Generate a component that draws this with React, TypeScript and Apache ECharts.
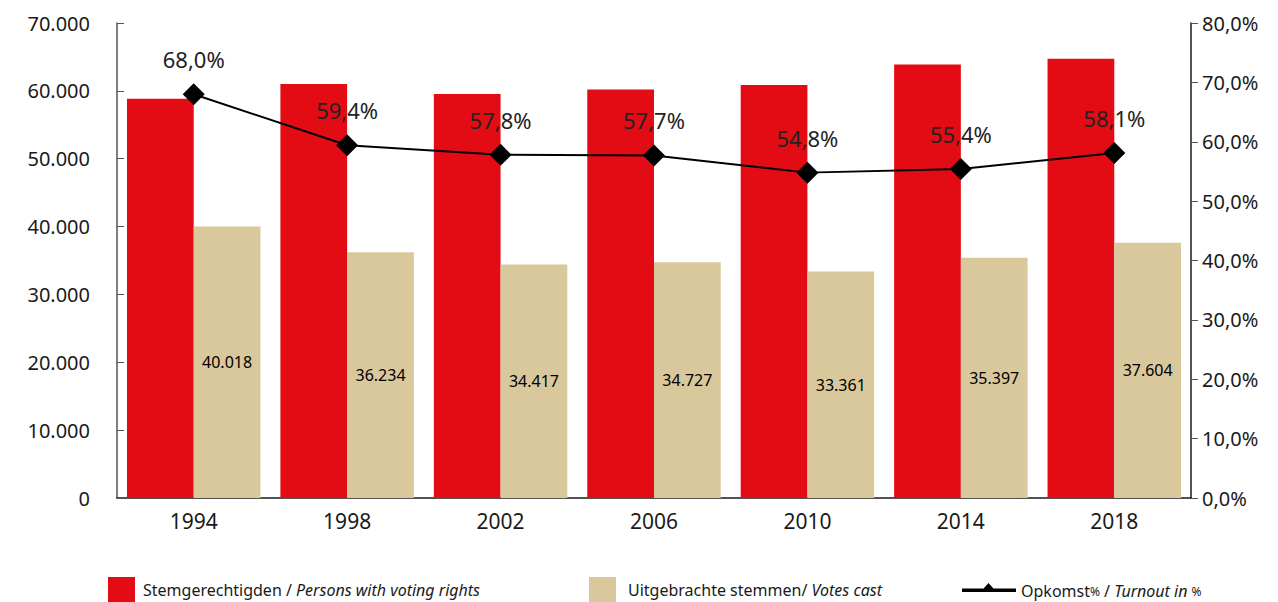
import React, { useEffect, useRef } from "react";
import * as echarts from "echarts";

const years = ["1994", "1998", "2002", "2006", "2010", "2014", "2018"];
const eligible = [58850, 61000, 59545, 60185, 60878, 63894, 64723];
const votes = [40018, 36234, 34417, 34727, 33361, 35397, 37604];
const turnout = [68.0, 59.4, 57.8, 57.7, 54.8, 55.4, 58.1];

const FONT = "Noto Sans";

const fmtThousands = (v: number) => {
  if (v === 0) return "0";
  const s = Math.round(v).toString();
  return s.replace(/\B(?=(\d{3})+(?!\d))/g, ".");
};
const fmtPct = (v: number) => v.toFixed(1).replace(".", ",") + "%";

export default function App() {
  const ref = useRef<HTMLDivElement>(null);
  useEffect(() => {
    if (!ref.current) return;
    document.body.style.margin = "0";
    document.body.style.overflow = "hidden";
    const chart = echarts.init(ref.current, undefined, { renderer: "svg" });
    const legendRich = {
      n: { fontFamily: FONT, fontSize: 16, color: "#1a1a1a" },
      i: { fontFamily: FONT, fontSize: 16, color: "#1a1a1a", fontStyle: "italic" },
      s: { fontFamily: FONT, fontSize: 12, color: "#1a1a1a" },
      g3: { width: 3 },
      g7: { width: 7 },
    };
    chart.setOption({
      animation: false,
      textStyle: { fontFamily: FONT },
      grid: { left: 117, right: 87, top: 23, bottom: 104 },
      legend: [
        {
          data: [{ name: "Stemgerechtigden", icon: "rect" }],
          left: 108,
          top: 577,
          padding: 0,
          itemWidth: 27,
          itemHeight: 25,
          itemGap: 8,
          formatter: () => "{g3|}{n|Stemgerechtigden / }{i|Persons with voting rights}",
          textStyle: { rich: legendRich },
          selectedMode: false,
        },
        {
          data: [{ name: "Uitgebrachte stemmen", icon: "rect" }],
          left: 589,
          top: 577,
          padding: 0,
          itemWidth: 27,
          itemHeight: 25,
          formatter: () => "{g7|}{n|Uitgebrachte stemmen/ }{i|Votes cast}",
          textStyle: { rich: legendRich },
          selectedMode: false,
        },
        {
          data: [
            {
              name: "Opkomst",
              icon:
                "path://M0,5.5 L22,5.5 L27,0 L32,5.5 L55,5.5 L55,9 L0,9 Z M0,16 L0.01,16 L0,16 Z",
            },
          ],
          left: 962,
          top: 583,
          padding: 0,
          itemWidth: 54,
          itemHeight: 16,
          itemGap: 2,
          symbolKeepAspect: false,
          itemStyle: { color: "#000" },
          formatter: () => "{n|Opkomst}{s|%}{n| / }{i|Turnout in }{s|%}",
          textStyle: { rich: legendRich },
          selectedMode: false,
        },
      ],
      xAxis: {
        type: "category",
        data: years,
        axisLine: { lineStyle: { color: "#1a1a1a", width: 1.5 } },
        axisTick: { show: false },
        axisLabel: { fontFamily: FONT, fontSize: 21, color: "#1a1a1a", margin: 12 },
      },
      yAxis: [
        {
          type: "value",
          min: 0,
          max: 70000,
          interval: 10000,
          axisLine: { show: true, lineStyle: { color: "#555", width: 1.5 } },
          axisTick: { show: true, inside: true, length: 7, lineStyle: { color: "#555" } },
          splitLine: { show: false },
          axisLabel: {
            fontFamily: FONT,
            fontSize: 20,
            color: "#1a1a1a",
            margin: 27,
            formatter: fmtThousands,
          },
        },
        {
          type: "value",
          min: 0,
          max: 80,
          interval: 10,
          position: "right",
          axisLine: { show: true, lineStyle: { color: "#1a1a1a", width: 1.5 } },
          axisTick: { show: true, inside: false, length: 7, lineStyle: { color: "#555" } },
          splitLine: { show: false },
          axisLabel: {
            fontFamily: FONT,
            fontSize: 20,
            color: "#1a1a1a",
            margin: 11,
            formatter: fmtPct,
          },
        },
      ],
      series: [
        {
          name: "Stemgerechtigden",
          type: "bar",
          data: eligible,
          itemStyle: { color: "#e30c15" },
          barGap: "0%",
          barCategoryGap: "13%",
        },
        {
          name: "Uitgebrachte stemmen",
          type: "bar",
          data: votes,
          itemStyle: { color: "#d8c89c" },
          label: {
            show: true,
            position: "inside",
            fontFamily: FONT,
            fontSize: 16,
            color: "#000",
            formatter: (p: any) => fmtThousands(p.value),
          },
        },
        {
          name: "Opkomst",
          type: "line",
          yAxisIndex: 1,
          data: turnout,
          symbol: "diamond",
          symbolSize: 22,
          lineStyle: { color: "#000", width: 2 },
          itemStyle: { color: "#000" },
          label: {
            show: true,
            position: "top",
            distance: 13,
            fontFamily: FONT,
            fontSize: 22,
            color: "#222",
            formatter: (p: any) => fmtPct(p.value),
          },
        },
      ],
    });
    return () => chart.dispose();
  }, []);
  return <div ref={ref} style={{ width: 1278, height: 602 }} />;
}
